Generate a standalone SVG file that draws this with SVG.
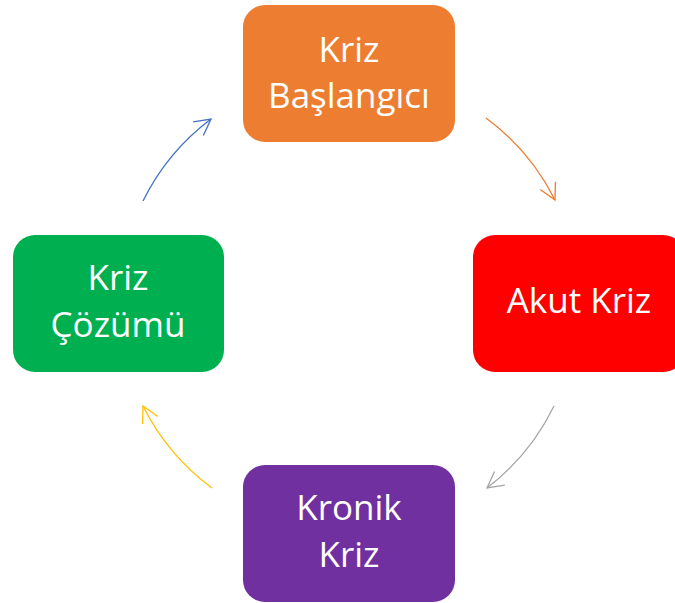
<svg xmlns="http://www.w3.org/2000/svg" width="675" height="603" viewBox="0 0 675 603">
<style>
.box{stroke:none}
.lbl{font-family:"Open Sans","Liberation Sans",sans-serif;font-size:35px;fill:#ffffff;text-anchor:middle}
.arc{fill:none;stroke-width:1.3}
</style>
<defs>
<marker id="mO" viewBox="-17 -10 19 20" refX="0" refY="0" markerWidth="19" markerHeight="20" markerUnits="userSpaceOnUse" orient="auto"><path d="M-16,-8.5 L0,0 L-16,8.5" fill="none" stroke="#ED7D31" stroke-width="1.3"/></marker>
<marker id="mG" viewBox="-17 -10 19 20" refX="0" refY="0" markerWidth="19" markerHeight="20" markerUnits="userSpaceOnUse" orient="auto"><path d="M-16,-8.5 L0,0 L-16,8.5" fill="none" stroke="#A5A5A5" stroke-width="1.3"/></marker>
<marker id="mY" viewBox="-17 -10 19 20" refX="0" refY="0" markerWidth="19" markerHeight="20" markerUnits="userSpaceOnUse" orient="auto"><path d="M-16,-8.5 L0,0 L-16,8.5" fill="none" stroke="#FFC000" stroke-width="1.3"/></marker>
<marker id="mB" viewBox="-17 -10 19 20" refX="0" refY="0" markerWidth="19" markerHeight="20" markerUnits="userSpaceOnUse" orient="auto"><path d="M-16,-8.5 L0,0 L-16,8.5" fill="none" stroke="#4472C4" stroke-width="1.3"/></marker>
</defs>
<rect width="675" height="603" fill="#ffffff"/>
<g id="connectors">
<path class="arc" d="M486,118 A230,230 0 0 1 555,200" stroke="#ED7D31" marker-end="url(#mO)"/>
<path class="arc" d="M554,406 A230,230 0 0 1 487,488" stroke="#A5A5A5" marker-end="url(#mG)"/>
<path class="arc" d="M212,488 A230,230 0 0 1 143,406" stroke="#FFC000" marker-end="url(#mY)"/>
<path class="arc" d="M143,201 A230,230 0 0 1 211,119" stroke="#4472C4" marker-end="url(#mB)"/>
</g>
<g id="kriz-baslangici">
<rect class="box" x="243" y="5" width="212" height="137" rx="22" fill="#ED7D31"/>
<text class="lbl" x="349" y="62">Kriz</text>
<text class="lbl" x="349" y="108">Başlangıcı</text>
</g>
<g id="akut-kriz">
<rect class="box" x="473" y="235" width="212" height="137" rx="22" fill="#FF0000"/>
<text class="lbl" x="579" y="313">Akut Kriz</text>
</g>
<g id="kronik-kriz">
<rect class="box" x="243" y="465" width="212" height="137" rx="22" fill="#7030A0"/>
<text class="lbl" x="349" y="520">Kronik</text>
<text class="lbl" x="349" y="567">Kriz</text>
</g>
<g id="kriz-cozumu">
<rect class="box" x="13" y="235" width="211" height="137" rx="22" fill="#00B050"/>
<text class="lbl" x="118" y="290">Kriz</text>
<text class="lbl" x="118" y="337">Çözümü</text>
</g>
</svg>
